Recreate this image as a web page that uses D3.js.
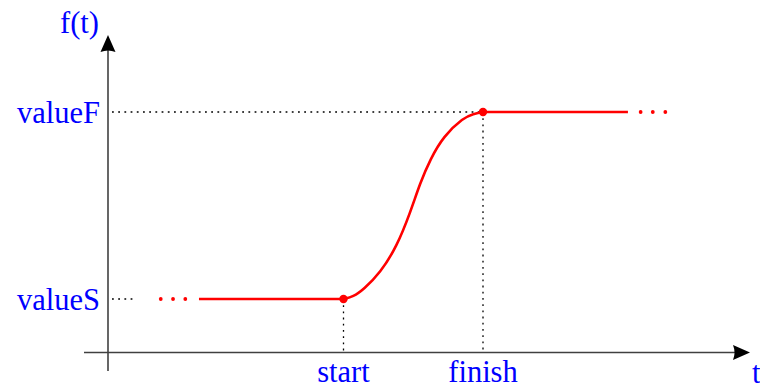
<!DOCTYPE html>
<html><head><meta charset="utf-8">
<script src="https://cdn.jsdelivr.net/npm/d3@7"></script>
<style>html,body{margin:0;padding:0;background:#fff}</style>
</head><body>
<script>
// ---- data ----
const tStart = 1.7, tFinish = 2.7;
const valueS = 1, valueF = 2;
const curveT = [1.7, 1.77, 1.843, 1.963, 2.083, 2.178, 2.25, 2.322, 2.417, 2.561, 2.63, 2.7];
const curveF = [1, 1.012, 1.05, 1.139, 1.282, 1.461, 1.622, 1.747, 1.871, 1.970, 1.99, 2];
const lowSegT = [0.664, 1.7];
const highSegT = [2.7, 3.739];
const lowDotsT = [0.39, 0.478, 0.566];
const highDotsT = [3.83, 3.917, 4.007];
const yLabels = ["valueS", "valueF"];
const xLabels = ["start", "finish"];
const axisNames = ["t", "f(t)"];

const W = 760, H = 388;
const svg = d3.select("body").append("svg").attr("width", W).attr("height", H);
const x = d3.scaleLinear().domain([tStart, tFinish]).range([343.5, 483]);
const y = d3.scaleLinear().domain([valueS, valueF]).range([299, 112]);
const x0 = 108, yAxisY = 352.5;
const blue = "#0000ff", red = "#ff0000", axisCol = "#404040";
const font = "'Liberation Serif', 'Times New Roman', serif";

// dotted guides
function guide(x1, y1, x2, y2) {
  svg.append("line").attr("x1", x1).attr("y1", y1).attr("x2", x2).attr("y2", y2)
    .attr("stroke", "#000").attr("stroke-width", 1.3).attr("stroke-dasharray", "1.8 4.4");
}
guide(x0 + 4, y(valueF), x(tFinish), y(valueF));
guide(x0 + 4, y(valueS), 134, y(valueS));
guide(x(tStart), y(valueS), x(tStart), yAxisY);
guide(x(tFinish), y(valueF), x(tFinish), yAxisY);

// axes
svg.append("line").attr("x1", x0).attr("y1", 371).attr("x2", x0).attr("y2", 48)
  .attr("stroke", axisCol).attr("stroke-width", 1.6);
svg.append("line").attr("x1", 84).attr("y1", yAxisY).attr("x2", 737).attr("y2", yAxisY)
  .attr("stroke", axisCol).attr("stroke-width", 1.6);
// arrowheads
svg.append("path").attr("d", `M${x0},35 L${x0 + 7.5},52 Q${x0},49 ${x0 - 7.5},52 Z`).attr("fill", "#000");
svg.append("path").attr("d", `M750,${yAxisY} L733,${yAxisY - 7.5} Q736,${yAxisY} 733,${yAxisY + 7.5} Z`).attr("fill", "#000");

// red function
const line = d3.line().x(d => x(d[0])).y(d => y(d[1]));
const sw = 2.6;
svg.append("path").datum(lowSegT.map(t => [t, valueS])).attr("d", line)
  .attr("stroke", red).attr("stroke-width", sw).attr("fill", "none");
svg.append("path").datum(highSegT.map(t => [t, valueF])).attr("d", line)
  .attr("stroke", red).attr("stroke-width", sw).attr("fill", "none");
svg.append("path").datum(curveT.map((t, i) => [t, curveF[i]]))
  .attr("d", d3.line().x(d => x(d[0])).y(d => y(d[1])).curve(d3.curveBasis))
  .attr("stroke", red).attr("stroke-width", sw).attr("fill", "none");
svg.selectAll("circle.ld").data(lowDotsT).enter().append("circle")
  .attr("cx", d => x(d)).attr("cy", y(valueS)).attr("r", 1.9).attr("fill", red);
svg.selectAll("circle.hd").data(highDotsT).enter().append("circle")
  .attr("cx", d => x(d)).attr("cy", y(valueF)).attr("r", 1.9).attr("fill", red);
svg.selectAll("circle.pt").data([[tStart, valueS], [tFinish, valueF]]).enter().append("circle")
  .attr("cx", d => x(d[0])).attr("cy", d => y(d[1])).attr("r", 4.2).attr("fill", red);

// labels
const fs = 30.5;
svg.selectAll("text.yl").data([valueS, valueF]).enter().append("text")
  .attr("x", 100).attr("y", d => y(d) + 11.3).attr("text-anchor", "end")
  .attr("font-family", font).attr("font-size", fs).attr("fill", blue)
  .text((d, i) => yLabels[i]);
svg.selectAll("text.xl").data([tStart, tFinish]).enter().append("text")
  .attr("x", d => x(d)).attr("y", 382).attr("text-anchor", "middle")
  .attr("font-family", font).attr("font-size", fs).attr("fill", blue)
  .text((d, i) => xLabels[i]);
svg.append("text").attr("x", 752).attr("y", 383).attr("font-family", font)
  .attr("font-size", fs).attr("fill", blue).text(axisNames[0]);
svg.append("text").attr("x", 99).attr("y", 33).attr("text-anchor", "end").attr("font-family", font)
  .attr("font-size", fs).attr("fill", blue).text(axisNames[1]);
</script>
</body></html>
